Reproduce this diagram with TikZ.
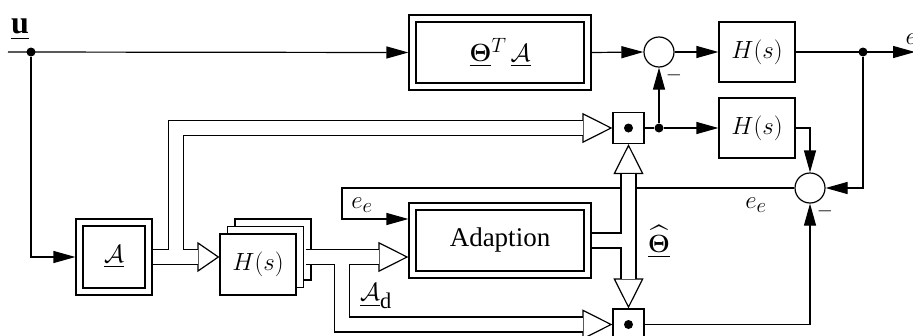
\documentclass[tikz,border=0pt]{standalone}
\usepackage{amsmath,amssymb}
\usepackage{fontspec}
\setmainfont{Liberation Serif}
\usepackage{tikz}
\usetikzlibrary{arrows.meta, calc, shadows}

\begin{document}
\begin{tikzpicture}[
    x=1pt, y=-1pt,
    line width=1.2pt,
    font=\fontsize{32}{38}\selectfont,
    blk/.style={rectangle, draw, fill=white, minimum width=76pt, minimum height=60pt, inner sep=0pt},
    dblbox/.style={rectangle, draw, double, double distance=5.8pt, outer sep=4.1pt, inner sep=0pt},
    sumnode/.style={circle, draw, minimum size=30pt, inner sep=0pt},
    prodnode/.style={rectangle, draw, minimum size=31pt, inner sep=0pt,
        path picture={\fill (path picture bounding box.center) circle (4.5pt);}},
    jdot/.style={circle, fill, minimum size=9pt, inner sep=0pt},
    sig/.style={-{Triangle[length=22pt, width=12pt]}},
    bus/.style={double, double distance=13.8pt},
    bushead/.style={white, -{Triangle[color=black, fill=white, length=#1, width=30pt]}},
    lbl/.style={inner sep=0pt},
    sgn/.style={inner sep=0pt, font=\fontsize{20}{24}\selectfont},
]
\useasboundingbox (0,0) rectangle (913,335);

% blocks
\node[dblbox, minimum width=175pt, minimum height=68pt, font=\fontsize{28}{34}\selectfont] (theta) at (500,52.5) {$\underline{\boldsymbol{\Theta}}^T\,\underline{\mathcal{A}}$};
\node[dblbox, minimum width=175pt, minimum height=68pt, font=\fontsize{27}{32}\selectfont] (adapt) at (500,240.5) {Adaption};
\node[dblbox, minimum size=69pt] (A) at (114,257) {$\underline{\mathcal{A}}$};
\node[blk, minimum height=61pt, double copy shadow={shadow xshift=7.5pt, shadow yshift=7.5pt}] (Hs) at (258,264.5) {$H(s)$};
\node[blk] (Htop) at (757,52) {$H(s)$};
\node[blk] (Hmid) at (757,128) {$H(s)$};
\node[sumnode] (sumT) at (659,52) {};
\node[sumnode] (sumR) at (810,188) {};
\node[prodnode] (prodT) at (628.5,128) {};
\node[prodnode] (prodB) at (628.5,324.5) {};

% branch points
\node[jdot] (jU) at (31,52) {};
\node[jdot] (jT) at (659,128) {};
\node[jdot] (jO) at (863,52) {};
\coordinate (uin) at (8,52);
\coordinate (eout) at (915,52);
\coordinate (ee) at (342,188);
\coordinate (hsout) at ($(Hs.east)+(9,-7.5)$);

% signals
\draw[sig] (uin) -- (theta.west);
\draw[sig] (jU) |- (A.west);
\draw[sig] (theta.east) -- (sumT.west);
\draw[sig] (sumT.east) -- (Htop.west);
\draw[sig] (Htop.east) -- (eout);
\draw (prodT.east) -- (jT);
\draw[sig] (jT) -- (sumT.south);
\draw[sig] (jT) -- (Hmid.west);
\draw[sig] (Hmid.east) -| (sumR.north);
\draw[sig] (jO) |- (sumR.east);
\draw[sig] (prodB.east) -| (sumR.south);
\draw[sig] (sumR.west) -- (ee) |- ($(adapt.west)+(0,-21.5)$);

% vector lines: heads first, then the lines over them
\draw[bushead=22pt] ($(Hs.west |- A.east)+(-23,0)$) -- (Hs.west |- A.east);
\draw[bushead=30pt] ($(prodT.west)+(-31,0)$) -- (prodT.west);
\draw[bushead=30pt] ($(hsout -| adapt.west)+(-31,0)$) -- (hsout -| adapt.west);
\draw[bushead=30pt] ($(prodB.west)+(-31,0)$) -- (prodB.west);
\draw[bushead=30pt] ($(prodT.south)+(0,31)$) -- (prodT.south);
\draw[bushead=30pt] ($(prodB.north)+(0,-31)$) -- (prodB.north);

\draw[bus] (A.east) -- ($(Hs.west |- A.east)+(-21.5,0)$)
    ($(A.east)+(23,0)$) |- ($(prodT.west)+(-29.5,0)$);
\draw[bus] (hsout) -- ($(hsout -| adapt.west)+(-29.5,0)$)
    ($(hsout)+(36,0)$) |- ($(prodB.west)+(-29.5,0)$);
\draw[bus] ($(prodT.south)+(0,29.5)$) -- ($(prodB.north)+(0,-29.5)$)
    (adapt.east) -- (adapt.east -| prodT);

% labels
\node[lbl] (ulbl) at (20,30) {$\underline{\mathbf{u}}$};
\node[lbl, anchor=west] (elbl) at (905,39) {$e$};
\node[sgn] (mT) at (674,75) {$-$};
\node[sgn] (mR) at (825,211) {$-$};
\node[lbl] (ee1) at (362,205) {$e_e$};
\node[lbl] (ee2) at (756,205) {$e_e$};
\node[lbl] (thhat) at (659,242) {$\widehat{\underline{\boldsymbol{\Theta}}}$};
\node[lbl] (Ad) at (376,296) {$\underline{\mathcal{A}}_{\mathrm{d}}$};
\end{tikzpicture}
\end{document}
